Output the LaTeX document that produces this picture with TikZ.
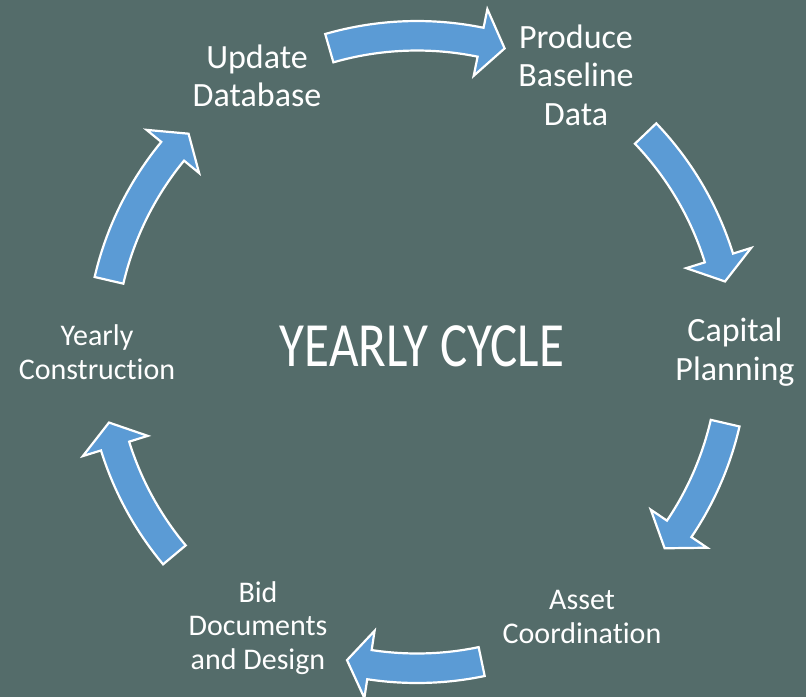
\documentclass[tikz,border=0pt]{standalone}
\usepackage{fontspec}
\setmainfont{Carlito}[Ligatures={CommonOff}]
\definecolor{bgslate}{RGB}{84,108,106}
\definecolor{arrowblue}{RGB}{91,155,213}
\newcommand\cyclearrow[3]{% tail angle, head-base angle, tip angle
  \filldraw[cyclearrowstyle]
    (#1:331) arc[start angle=#1, end angle=#2, radius=331]
    -- (#2:350) -- (#3:316) -- (#2:282) -- (#2:301.5)
    arc[start angle=#2, end angle=#1, radius=301.5] -- cycle;}
\begin{document}
\begin{tikzpicture}[x=1pt,y=1pt,
  cyclearrowstyle/.style={fill=arrowblue, draw=white, line width=2.2pt, line join=miter},
  biglabel/.style={text=white, align=center, inner sep=0pt, font=\fontsize{34}{38.5}\selectfont},
  smalllabel/.style={text=white, align=center, inner sep=0pt, font=\fontsize{30}{33.5}\selectfont},
  titlelabel/.style={text=white, inner sep=0pt, font=\fontsize{63}{70}\selectfont}]
\fill[bgslate] (0,0) rectangle (806,-697);
\useasboundingbox (0,0) rectangle (806,-697);
\begin{scope}[shift={(417,-352)}]
  \cyclearrow{106.1}{78.4}{73.9}
  \cyclearrow{43.7}{17.3}{12.9}
  \cyclearrow{-13}{-34}{-38.4}
  \cyclearrow{-78.2}{-98.65}{-102.8}
  \cyclearrow{-140.1}{-162.7}{-167.1}
  \cyclearrow{166.9}{140.6}{136.3}
\end{scope}
\node[biglabel] (update) at (257,-76) {Update\\Database};
\node[biglabel] (produce) at (576,-75) {Produce\\Baseline\\Data};
\node[biglabel] (capital) at (735,-352) {Capital\\Planning};
\node[smalllabel] (asset) at (582,-617) {Asset\\Coordination};
\node[smalllabel] (bid) at (258,-628) {Bid\\Documents\\and Design};
\node[smalllabel] (yearly) at (97,-352) {Yearly\\Construction};
\node[titlelabel] (title) at (422,-346) {\scalebox{0.81}[1]{YEARLY CYCLE}};
\end{tikzpicture}
\end{document}
